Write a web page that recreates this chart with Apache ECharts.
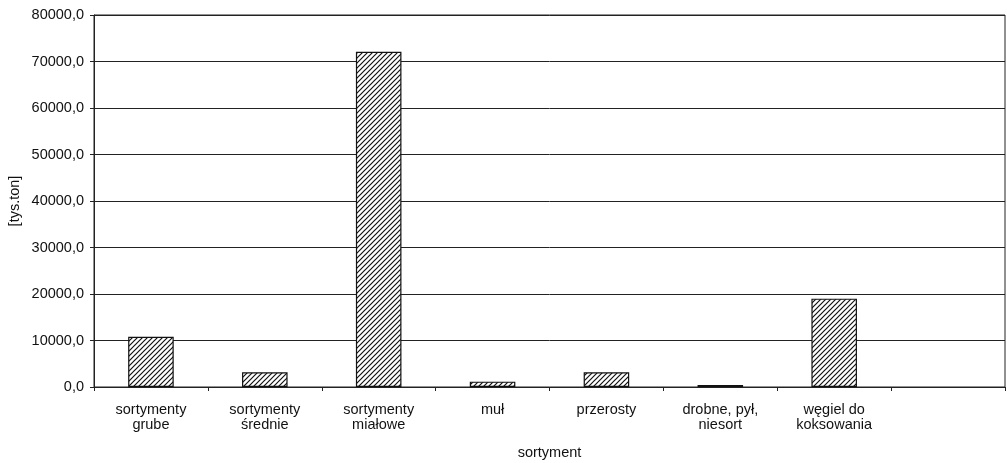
<!DOCTYPE html>
<html>
<head>
<meta charset="utf-8">
<script src="https://cdn.jsdelivr.net/npm/echarts@6/dist/echarts.min.js"></script>
<style>
  html, body { margin: 0; padding: 0; background: #fff; }
  #chart { width: 1007px; height: 463px; }
</style>
</head>
<body>
<div id="chart"></div>
<script>
// Coal production by assortment [thousand tonnes]
const categories = [
  'sortymenty\ngrube',
  'sortymenty\nśrednie',
  'sortymenty\nmiałowe',
  'muł',
  'przerosty',
  'drobne, pył,\nniesort',
  'węgiel do\nkoksowania',
  ''
];
const values = [10800, 3150, 72100, 1150, 3150, 450, 19000, null];
const yTicks = { min: 0, max: 80000, interval: 10000 };

// diagonal hatch fill for the bars
function hatch() {
  const s = 5;
  const c = document.createElement('canvas');
  c.width = s; c.height = s;
  const g = c.getContext('2d');
  g.fillStyle = '#fff';
  g.fillRect(0, 0, s, s);
  g.strokeStyle = '#111';
  g.lineWidth = 1.2;
  g.beginPath();
  g.moveTo(-1, s + 1); g.lineTo(s + 1, -1);
  g.moveTo(-1, 1); g.lineTo(1, -1);
  g.moveTo(s - 1, s + 1); g.lineTo(s + 1, s - 1);
  g.stroke();
  return { image: c, repeat: 'repeat' };
}

const font = 'Liberation Sans, Arial, sans-serif';
const fs = 14.5;
const chart = echarts.init(document.getElementById('chart'));
chart.setOption({
  animation: false,
  grid: {
    left: 94, right: 2, top: 15, bottom: 76,
    outerBoundsMode: 'none', containLabel: false,
    show: true, borderColor: '#222', borderWidth: 1
  },
  xAxis: {
    type: 'category',
    data: categories,
    name: 'sortyment',
    nameLocation: 'middle',
    nameGap: 58,
    nameMoveOverlap: false,
    nameTextStyle: { color: '#111', fontSize: fs, fontFamily: font },
    axisLine: { lineStyle: { color: '#222', width: 1 } },
    axisTick: { show: true, length: 4, lineStyle: { color: '#222' } },
    axisLabel: {
      color: '#111', fontSize: fs, fontFamily: font,
      lineHeight: 15, margin: 15, interval: 0
    }
  },
  yAxis: {
    type: 'value',
    min: yTicks.min, max: yTicks.max, interval: yTicks.interval,
    name: '[tys.ton]',
    nameLocation: 'middle',
    nameGap: 72,
    nameMoveOverlap: false,
    nameRotate: 90,
    nameTextStyle: { color: '#111', fontSize: fs, fontFamily: font },
    axisLine: { show: true, lineStyle: { color: '#222', width: 1 } },
    axisTick: { show: true, length: 4, lineStyle: { color: '#222' } },
    axisLabel: {
      color: '#111', fontSize: fs, fontFamily: font, margin: 10,
      formatter: v => v.toFixed(1).replace('.', ',')
    },
    splitLine: { lineStyle: { color: '#222', width: 1 } }
  },
  series: [{
    type: 'bar',
    data: values,
    barWidth: '40%',
    itemStyle: { color: hatch(), borderColor: '#111', borderWidth: 1.2 }
  }]
});
</script>
</body>
</html>
